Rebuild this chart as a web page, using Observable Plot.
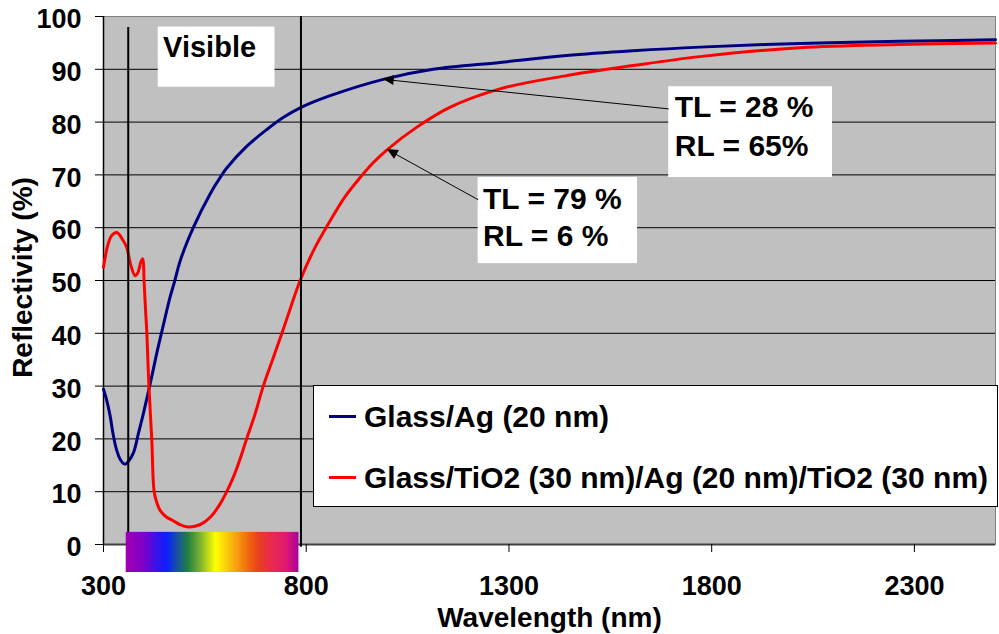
<!DOCTYPE html>
<html><head><meta charset="utf-8">
<script src="https://cdn.jsdelivr.net/npm/d3@7"></script>
<script src="https://cdn.jsdelivr.net/npm/@observablehq/plot@0.6"></script>
<style>
body{margin:0;background:#fff;}
#wrap{position:relative;width:999px;height:634px;overflow:hidden;}
#legend{position:absolute;left:313px;top:385px;width:683px;height:120px;border:1px solid #000;background:#fff;
  font-family:"Liberation Sans",Arial,sans-serif;font-weight:bold;font-size:30px;color:#000;}
.row{position:absolute;left:15px;height:34px;line-height:34px;display:flex;align-items:center;white-space:nowrap;}
.sw{width:27px;height:3px;margin-right:8px;}
</style></head><body><div id="wrap"></div>
<script>
// ---- data ----
const seriesNames = ["Glass/Ag (20 nm)", "Glass/TiO2 (30 nm)/Ag (20 nm)/TiO2 (30 nm)"];
const seriesColors = ["#000080", "#ff0000"];

const wavelengthAg = [300,308,316,324,332,342,353,362,374,386,398,415,431,448,464,476,489,522,563,592,604,653,703,744,785,859,990,1113,1278,1442,1606,1771,2018,2264,2500];
const reflectAg    = [29.4,27.3,24.5,20.8,18.0,16.0,15.2,15.8,17.4,21.0,24.7,30.4,36.1,41.7,46.8,50.0,53.7,60.1,66.4,70.0,71.3,75.4,78.6,80.9,82.7,85.0,88.1,90.0,91.3,92.6,93.5,94.2,94.9,95.3,95.6];

const wavelengthTiAg = [300,310,320,333,345,357,367,378,385,392,397,400,404,407,412,419,425,432,440,455,472,490,509,528,546,565,587,604,620,636,653,673,694,717,740,762,785,820,859,895,933,965,1000,1072,1154,1278,1442,1606,1771,2018,2264,2500];
const reflectTiAg    = [52.5,56.5,58.5,59.1,58.0,56.3,53.0,50.9,51.5,53.5,54.1,50.0,44.0,40.0,30.0,20.0,10.0,7.8,6.4,5.2,4.5,3.7,3.3,3.5,4.1,5.3,7.6,10.0,12.7,16.0,20.0,24.5,30.0,35.0,40.0,45.0,50.0,56.0,61.3,65.8,69.5,72.3,74.8,79.0,82.8,86.3,88.8,90.7,92.4,94.1,94.7,95.0];

const xTicks = [300, 800, 1300, 1800, 2300];
const yTicks = [0, 10, 20, 30, 40, 50, 60, 70, 80, 90, 100];
const gridValues = [10, 20, 30, 40, 50, 60, 70, 80, 90];

// visible-range markers and spectrum bar (nm)
const visibleLines = [{x: 361, y1: 97.9, y2: 0}, {x: 787, y1: 100, y2: -0.5}];
const spectrumBar = [{x1: 356, x2: 782, y1: -5.3, y2: 2.3}];
const spectrumStops = [
  [0, "#a000b0"], [0.1, "#8000c8"], [0.235, "#0a1eff"], [0.31, "#1a5a90"], [0.36, "#208040"],
  [0.43, "#7ab030"], [0.52, "#ffff00"], [0.62, "#f8b010"], [0.72, "#f06010"], [0.77, "#e84020"],
  [0.85, "#e82850"], [0.93, "#e01870"], [1, "#a800a0"]
];

// annotation boxes and texts
const boxes = [
  {x1: 435, x2: 723, y1: 86.6, y2: 98.0},
  {x1: 1694, x2: 2098, y1: 69.5, y2: 86.7},
  {x1: 1224, x2: 1617, y1: 53.2, y2: 69.5}
];
const boxTexts = [
  {x: 447, y: 92.3, text: "Visible", size: 29},
  {x: 1709, y: 80.9, text: "TL = 28 %", size: 30},
  {x: 1709, y: 73.65, text: "RL = 65%", size: 30},
  {x: 1236, y: 63.6, text: "TL = 79 %", size: 30},
  {x: 1236, y: 56.6, text: "RL = 6 %", size: 30}
];
const arrows = [
  {fromX: 1694, fromY: 82.5, tipX: 990, tipY: 88.1},
  {fromX: 1224, fromY: 65.3, tipX: 1000, tipY: 74.8}
];

const agData = wavelengthAg.map((w, i) => ({w, r: reflectAg[i]}));
const tiData = wavelengthTiAg.map((w, i) => ({w, r: reflectTiAg[i]}));

const FONT = "'Liberation Sans', Arial, sans-serif";

const chart = Plot.plot({
  width: 999, height: 634,
  marginLeft: 103, marginRight: 4, marginTop: 16, marginBottom: 90,
  style: {fontFamily: FONT, fontWeight: "bold", background: "transparent", overflow: "visible", color: "black"},
  x: {domain: [300, 2500]},
  y: {domain: [0, 100]},
  marks: [
    Plot.frame({fill: "#c0c0c0", stroke: "#808080"}),
    Plot.ruleY(gridValues, {stroke: "black", strokeWidth: 1}),
    Plot.ruleX([300], {stroke: "black", strokeWidth: 1.5}),
    Plot.ruleY([0], {stroke: "#404040", strokeWidth: 2}),
    Plot.axisX({ticks: xTicks, tickSize: 8, tickPadding: 23, fontSize: 27, tickFormat: d => String(d), label: null, stroke: "black"}),
    Plot.axisY({ticks: yTicks, tickSize: 8, tickPadding: 14, fontSize: 27, label: null, fill: "none", stroke: "black"}),
    Plot.axisY({ticks: yTicks, tickSize: 8, tickPadding: 14, fontSize: 27, label: null, stroke: "none", dy: 3}),
    Plot.line(agData, {x: "w", y: "r", stroke: seriesColors[0], strokeWidth: 3, curve: "catmull-rom"}),
    Plot.line(tiData, {x: "w", y: "r", stroke: seriesColors[1], strokeWidth: 3, curve: "catmull-rom"}),
    Plot.ruleX(visibleLines, {x: "x", y1: "y1", y2: "y2", stroke: "black", strokeWidth: 2}),
    Plot.rect(spectrumBar, {x1: "x1", x2: "x2", y1: "y1", y2: "y2", fill: "url(#spectrum)"}),
    Plot.rect(boxes, {x1: "x1", x2: "x2", y1: "y1", y2: "y2", fill: "white"}),
    Plot.text(boxTexts, {x: "x", y: "y", text: "text", fontSize: d => d.size, textAnchor: "start", lineAnchor: "bottom", fill: "black", fontWeight: "bold"}),
    Plot.link(arrows, {x1: "fromX", y1: "fromY", x2: "tipX", y2: "tipY", stroke: "black", strokeWidth: 1}),
    Plot.text(["Reflectivity (%)"], {frameAnchor: "left", textAnchor: "middle", dx: -80, dy: -3, rotate: -90, fontSize: 28, fontWeight: "bold", fill: "black"}),
    Plot.text(["Wavelength (nm)"], {frameAnchor: "bottom", textAnchor: "middle", dy: 82, lineAnchor: "bottom", fontSize: 28, fontWeight: "bold", fill: "black"})
  ]
});

// gradient for spectrum bar
const svg = d3.select(chart);
const grad = svg.insert("defs", ":first-child").append("linearGradient")
  .attr("id", "spectrum").attr("x1", "0%").attr("x2", "100%").attr("y1", "0%").attr("y2", "0%");
spectrumStops.forEach(([o, c]) => grad.append("stop").attr("offset", o).attr("stop-color", c));

// filled arrowheads via plot scales
const sx = chart.scale("x"), sy = chart.scale("y");
arrows.forEach(a => {
  const tx = sx.apply(a.tipX), ty = sy.apply(a.tipY);
  const fx = sx.apply(a.fromX), fy = sy.apply(a.fromY);
  const L = Math.hypot(tx - fx, ty - fy), ux = (tx - fx) / L, uy = (ty - fy) / L;
  const hl = 11, hw = 5;
  const bx = tx - hl * ux, by = ty - hl * uy;
  const pts = [[tx, ty], [bx - hw * uy, by + hw * ux], [bx + hw * uy, by - hw * ux]];
  svg.append("polygon").attr("points", pts.map(p => p.join(",")).join(" ")).attr("fill", "black");
});

const wrap = document.getElementById("wrap");
wrap.appendChild(chart);

// legend
const legend = document.createElement("div");
legend.id = "legend";
const rowTops = [13.5, 74.5];
seriesNames.forEach((name, i) => {
  const row = document.createElement("div");
  row.className = "row";
  row.style.top = rowTops[i] + "px";
  const sw = document.createElement("span");
  sw.className = "sw";
  sw.style.background = seriesColors[i];
  const t = document.createElement("span");
  t.textContent = name;
  row.appendChild(sw); row.appendChild(t);
  legend.appendChild(row);
});
wrap.appendChild(legend);
</script>
</body></html>
